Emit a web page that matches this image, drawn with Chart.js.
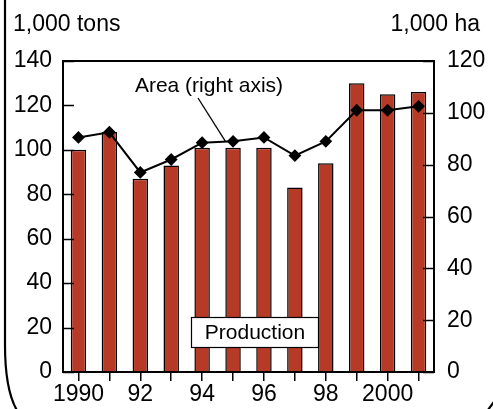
<!DOCTYPE html>
<html>
<head>
<meta charset="utf-8">
<script src="https://cdn.jsdelivr.net/npm/chart.js@4/dist/chart.umd.min.js"></script>
<style>
html,body{margin:0;padding:0;background:#fff;}
#wrap{width:493px;height:409px;position:relative;}
</style>
</head>
<body>
<div id="wrap"><canvas id="c" width="493" height="409"></canvas></div>
<script>
// ---- data ----
const years = [1990,1991,1992,1993,1994,1995,1996,1997,1998,1999,2000,2001];
const xTickLabels = ['1990','','92','','94','','96','','98','','2000',''];
const production = [100,108,87,93,101,101,101,83,94,130,125,126];   // 1,000 tons (left axis)
const area = [90.5,92.5,77,82,88.5,89,90.5,83.5,89,101,101,102.5];  // 1,000 ha (right axis)
const leftTicks = [0,20,40,60,80,100,120,140];
const rightTicks = [0,20,40,60,80,100,120];

const FONT = "'Liberation Sans', Arial, Helvetica, sans-serif";
const NUMSIZE = 23;

const decor = {
  id: 'decor',
  afterDatasetsDraw(chart) {
    const ctx = chart.ctx;
    const a = chart.chartArea;
    const yL = chart.scales.y, yR = chart.scales.y1;
    ctx.save();
    // inward ticks
    ctx.strokeStyle = '#000';
    ctx.lineWidth = 1.5;
    ctx.beginPath();
    leftTicks.forEach(v => {
      const p = Math.round(yL.getPixelForValue(v)) + 0.5;
      ctx.moveTo(a.left, p); ctx.lineTo(a.left + 11, p);
    });
    rightTicks.forEach(v => {
      const p = Math.round(yR.getPixelForValue(v)) + 0.5;
      ctx.moveTo(a.right, p); ctx.lineTo(a.right - 11, p);
    });
    ctx.stroke();
    // plot box
    ctx.lineWidth = 2;
    ctx.strokeRect(a.left, a.top, a.right - a.left, a.bottom - a.top);

    // leader annotation for the line
    const pts = chart.getDatasetMeta(1).data;
    const t = 0.76;
    const ex = pts[4].x + (pts[5].x - pts[4].x) * t;
    const ey = pts[4].y + (pts[5].y - pts[4].y) * t;
    ctx.lineWidth = 1.3;
    ctx.beginPath();
    ctx.moveTo(a.left + 135, a.top + 37);
    ctx.lineTo(ex, ey);
    ctx.stroke();
    ctx.fillStyle = '#000';
    ctx.font = '21px ' + FONT;
    ctx.textAlign = 'center';
    ctx.textBaseline = 'middle';
    ctx.fillText('Area (right axis)', a.left + 146, a.top + 25);

    // Production label box
    const bx = a.left + 128, by = a.top + 256, bw = 127, bh = 30;
    ctx.fillStyle = '#fff';
    ctx.fillRect(bx, by, bw, bh);
    ctx.lineWidth = 1.2;
    ctx.strokeRect(bx + 0.5, by + 0.5, bw, bh);
    ctx.fillStyle = '#000';
    ctx.fillText('Production', bx + bw / 2 + 0.5, by + bh / 2 + 1);
    ctx.restore();
  },
  afterDraw(chart) {
    const ctx = chart.ctx;
    ctx.save();
    // axis unit titles
    ctx.fillStyle = '#000';
    ctx.font = NUMSIZE + 'px ' + FONT;
    ctx.textBaseline = 'alphabetic';
    ctx.textAlign = 'left';
    ctx.fillText('1,000 tons', 13, 31);
    ctx.textAlign = 'right';
    ctx.fillText('1,000 ha', 480, 31);
    // outer frame fragments
    ctx.strokeStyle = '#000';
    ctx.lineWidth = 2.2;
    ctx.beginPath();
    ctx.moveTo(5, -2);
    ctx.lineTo(5, 345);
    ctx.quadraticCurveTo(5, 395, 20, 415);
    ctx.stroke();
    ctx.beginPath();
    ctx.moveTo(485, 414);
    ctx.lineTo(496, 399);
    ctx.stroke();
    ctx.restore();
  }
};

new Chart(document.getElementById('c'), {
  data: {
    labels: years.map(String),
    datasets: [
      {
        type: 'bar',
        label: 'Production',
        data: production,
        yAxisID: 'y',
        backgroundColor: '#b73a27',
        borderColor: '#000',
        borderWidth: 1.5,
        barPercentage: 0.5,
        categoryPercentage: 1.0,
        order: 2
      },
      {
        type: 'line',
        label: 'Area (right axis)',
        data: area,
        yAxisID: 'y1',
        borderColor: '#000',
        borderWidth: 2,
        pointStyle: 'rectRot',
        pointRadius: 5,
        pointBackgroundColor: '#000',
        pointBorderColor: '#000',
        tension: 0,
        order: 1
      }
    ]
  },
  options: {
    responsive: false,
    animation: false,
    layout: { padding: { top: 61, left: 0, right: 0, bottom: 0 } },
    plugins: { legend: { display: false }, tooltip: { enabled: false }, title: { display: false } },
    scales: {
      x: {
        type: 'category',
        position: 'bottom',
        offset: true,
        grid: { display: true, drawOnChartArea: false, drawTicks: true, tickLength: 9, offset: false, color: '#000', lineWidth: 1.5 },
        border: { display: false },
        ticks: {
          autoSkip: false, maxRotation: 0, minRotation: 0, padding: 0,
          color: '#000', font: { family: FONT, size: NUMSIZE },
          callback: (v, i) => xTickLabels[i]
        },
        afterFit: s => { s.height = 37; }
      },
      y: {
        position: 'left',
        min: 0, max: 140,
        afterBuildTicks: s => { s.ticks = leftTicks.map(v => ({ value: v })); },
        grid: { display: false, drawTicks: false },
        border: { display: false },
        ticks: { padding: 11, color: '#000', font: { family: FONT, size: NUMSIZE } },
        afterFit: s => { s.width = 63; }
      },
      y1: {
        position: 'right',
        min: 0, max: 120,
        afterBuildTicks: s => { s.ticks = rightTicks.map(v => ({ value: v })); },
        grid: { display: false, drawTicks: false },
        border: { display: false },
        ticks: { padding: 13, color: '#000', font: { family: FONT, size: NUMSIZE } },
        afterFit: s => { s.width = 59; }
      }
    }
  },
  plugins: [decor]
});
</script>
</body>
</html>
